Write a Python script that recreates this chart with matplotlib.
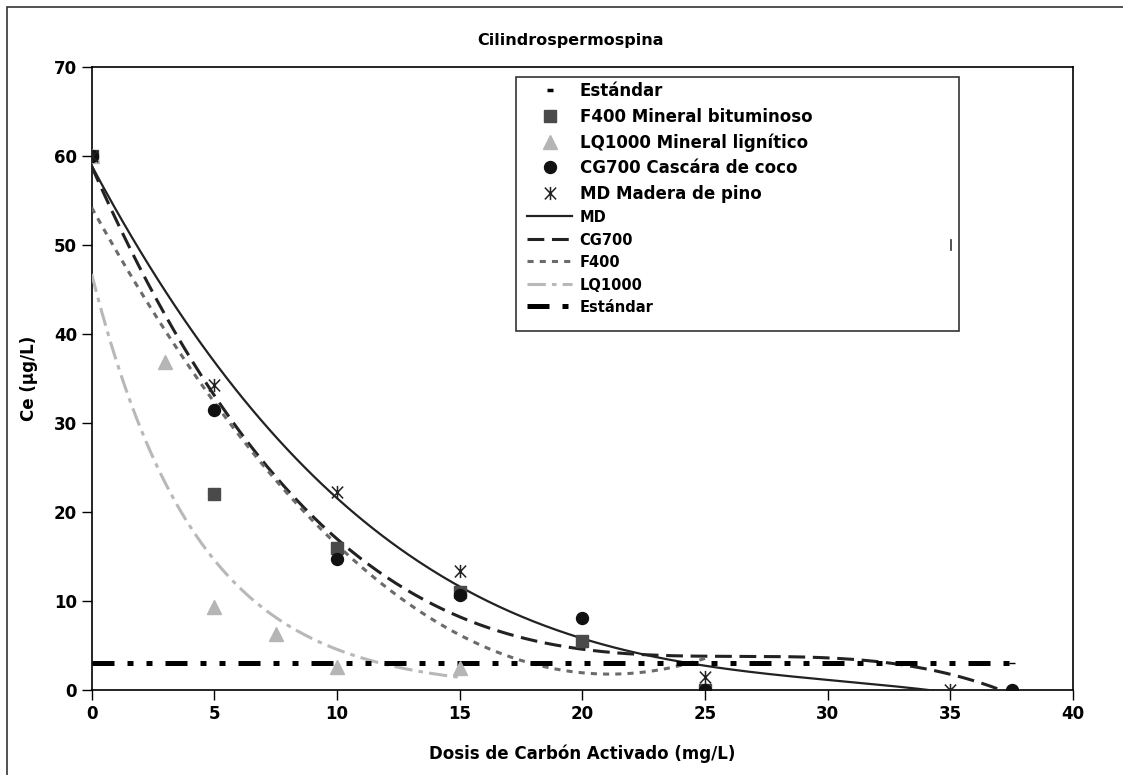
import numpy as np
import matplotlib
matplotlib.use('Agg')
import matplotlib.pyplot as plt
from matplotlib.lines import Line2D
from matplotlib.patches import Rectangle
from matplotlib.path import Path

plt.rcParams['font.family'] = 'DejaVu Sans'
plt.rcParams['font.weight'] = 'bold'

# Datos
x_f400 = [0, 5, 10, 15, 20, 25]
y_f400 = [60, 22, 16, 11, 5.5, 0]

x_lq = [0, 3, 5, 7.5, 10, 15]
y_lq = [60, 36.8, 9.3, 6.3, 2.6, 2.5]

x_cg = [0, 5, 10, 15, 20, 25, 37.5]
y_cg = [60, 31.5, 14.7, 10.7, 8.1, 0, 0]

x_md = [0, 5, 10, 15, 25, 35]
y_md = [60, 34.3, 22.2, 13.4, 1.5, 0]

x_std = [0, 37.5]
y_std = [3, 3]

# asterisco estilo Excel (X con linea vertical)
asterisk = Path([(0, -1), (0, 1), (-0.85, -0.9), (0.85, 0.9), (-0.85, 0.9), (0.85, -0.9)],
                [Path.MOVETO, Path.LINETO] * 3)

fig = plt.figure(figsize=(11.23, 7.75), dpi=100)
ax = fig.add_axes([91.7 / 1123, 1 - 690 / 775, 981.3 / 1123, 623 / 775])

# Lineas de tendencia (como en Excel)
xs = np.linspace(0, 35, 300)
md_fit = np.polyval(np.polyfit(x_md, y_md, 3), xs)
ax.plot(xs, md_fit, color='#222222', lw=1.6, zorder=3)

xs_cg = np.linspace(0, 37.5, 300)
cg_fit = np.polyval(np.polyfit(x_cg, y_cg, 3), xs_cg)
ax.plot(xs_cg, cg_fit, color='#222222', lw=2.2, ls=(0, (5.5, 2.5)), zorder=3)

xs_f = np.linspace(0, 25, 300)
f_fit = np.polyval(np.polyfit(x_f400, y_f400, 2), xs_f)
ax.plot(xs_f, f_fit, color='#6b6b6b', lw=2.2, ls=(0, (2, 2)), zorder=3)

xs_lq = np.linspace(0, 15, 300)
b, a = np.polyfit(x_lq, np.log(y_lq), 1)
ax.plot(xs_lq, np.exp(a) * np.exp(b * xs_lq), color='#b8b8b8', lw=2.2,
        ls=(0, (6, 2, 1.5, 2)), zorder=3)

ax.plot(x_std, y_std, color='black', lw=3.6,
        ls=(0, (4.4, 2.6, 1.2, 2.6, 1.2, 2.6)), zorder=3)

# Puntos
ax.plot(x_std, y_std, ls='none', marker='_', ms=5, color='black', zorder=4)
ax.plot(x_f400, y_f400, ls='none', marker='s', ms=8.4, color='#4a4a4a', zorder=4)
ax.plot(x_lq, y_lq, ls='none', marker='^', ms=9.5, color='#b5b5b5', zorder=4)
ax.plot(x_cg, y_cg, ls='none', marker='o', ms=8.6, color='#111111', zorder=4)
ax.plot(x_md, y_md, ls='none', marker=asterisk, ms=9.5, mew=1.1, mfc='none',
        color='#222222', zorder=5)

ax.set_xlim(0, 40)
ax.set_ylim(0, 70)
ax.set_xticks(range(0, 41, 5))
ax.set_yticks(range(0, 71, 10))
ax.tick_params(direction='out', length=7, width=1, labelsize=12)
for s in ax.spines.values():
    s.set_linewidth(1.2)

ax.set_xlabel('Dosis de Carbón Activado (mg/L)', fontsize=12, fontweight='bold')
ax.set_ylabel('Ce (µg/L)', fontsize=12, fontweight='bold')
ax.xaxis.set_label_coords(0.5, -0.0867)
ax.yaxis.set_label_coords(-0.0547, 0.5)

fig.text(570 / 1123, 1 - 40 / 775, 'Cilindrospermospina', ha='center',
         va='center', fontsize=11.5, fontweight='bold')

# Leyenda
handles = [
    Line2D([], [], ls='none', marker='_', ms=5, mew=2.5, color='black'),
    Line2D([], [], ls='none', marker='s', ms=8.4, color='#4a4a4a'),
    Line2D([], [], ls='none', marker='^', ms=9.5, color='#b5b5b5'),
    Line2D([], [], ls='none', marker='o', ms=8.6, color='#111111'),
    Line2D([], [], ls='none', marker=asterisk, ms=9.5, mew=1.1, mfc='none',
           color='#222222'),
    Line2D([], [], color='#222222', lw=1.6),
    Line2D([], [], color='#222222', lw=2.2, ls=(0, (5.5, 2.5))),
    Line2D([], [], color='#6b6b6b', lw=2.2, ls=(0, (2, 2))),
    Line2D([], [], color='#b8b8b8', lw=2.2, ls=(0, (6, 2, 1.5, 2))),
    Line2D([], [], color='black', lw=3.6, ls=(0, (4.4, 2.6, 1.2, 2.6))),
]
labels = ['Estándar', 'F400 Mineral bituminoso', 'LQ1000 Mineral lignítico',
          'CG700 Cascára de coco', 'MD Madera de pino',
          'MD', 'CG700', 'F400', 'LQ1000', 'Estándar']
leg = ax.legend(handles, labels, loc='upper left',
                bbox_to_anchor=((527 - 91.7) / 981.3, (690 - 82) / 623),
                frameon=False, fontsize=12, borderpad=0, borderaxespad=0,
                handlelength=2.7, handletextpad=0.45, labelspacing=0.45)
for i, t in enumerate(leg.get_texts()):
    t.set_fontweight('bold')
    if i >= 5:
        t.set_fontsize(10.5)

ax.add_patch(Rectangle((0.4324, 0.5762), 0.8838 - 0.4324, 0.9839 - 0.5762,
                       transform=ax.transAxes, fill=False, lw=1.2,
                       edgecolor='#333333', zorder=6))
ax.plot([0.8757, 0.8757], [0.7223, 0.7063], transform=ax.transAxes,
        color='#333333', lw=1.2)

# Borde exterior
fig.patches.append(Rectangle((7 / 1123, -0.05), 1.1, 1 - 7 / 775 + 0.05,
                             transform=fig.transFigure, fill=False, lw=1.2,
                             edgecolor='#333333'))

fig.savefig('out.png', dpi=100)
